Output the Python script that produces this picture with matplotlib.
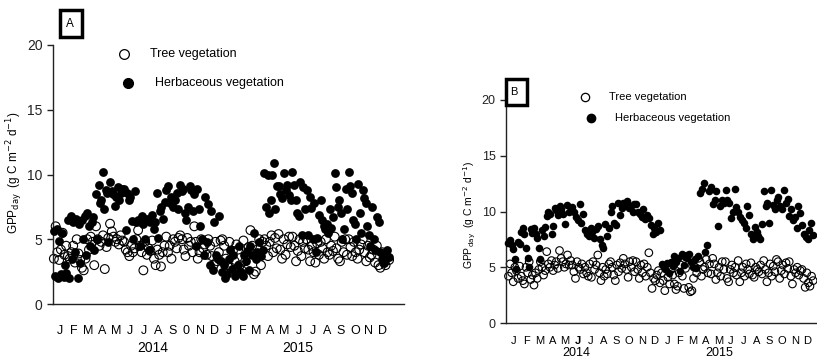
import numpy as np
import matplotlib.pyplot as plt
from matplotlib.patches import Rectangle
from matplotlib.lines import Line2D

plt.rcParams['font.family'] = ['Liberation Sans', 'DejaVu Sans']

# month tick labels (two years)
months_a = ['J', 'F', 'M', 'A', 'M', 'J', 'J', 'A', 'S', '0', 'N', 'D',
            'J', 'F', 'M', 'A', 'M', 'J', 'J', 'A', 'S', 'O', 'N', 'D']
months_b = ['J', 'F', 'M', 'A', 'M', 'J', 'J', 'A', 'S', 'O', 'N', 'D',
            'J', 'F', 'M', 'A', 'M', 'J', 'J', 'A', 'S', 'O', 'N', 'D']
years = ['2014', '2015']

# GPP_day readings, one list per month (Jan 2014 .. Dec 2015)
# panel A
herb_a = [
    [5.6, 2.2, 5.8, 2.0, 4.9, 2.3, 5.5, 2.1, 3.0, 2.4],
    [6.5, 2.0, 6.8, 3.5, 6.3, 4.0, 6.6, 2.0, 6.2, 3.2],
    [6.5, 5.0, 6.8, 3.8, 7.0, 6.0, 4.5, 6.3, 6.7, 4.2],
    [8.5, 5.0, 9.2, 7.8, 8.0, 10.2, 7.3, 8.8, 8.6, 4.8],
    [9.4, 8.7, 8.5, 7.6, 8.3, 9.0, 8.0, 8.6, 8.9],
    [8.9, 5.7, 8.6, 8.0, 8.3, 6.4, 5.0, 8.7, 6.3],
    [6.5, 4.5, 6.8, 6.2, 5.0, 6.6, 4.2, 6.3],
    [6.9, 5.8, 6.3, 8.6, 5.1, 7.2, 7.5, 6.6, 7.9],
    [8.8, 9.1, 7.8, 8.3, 7.5, 8.0, 8.6, 7.3],
    [9.2, 8.7, 8.9, 7.0, 6.5, 7.5, 9.1, 8.8, 7.2],
    [8.5, 4.5, 8.9, 7.3, 6.0, 5.0, 3.8, 8.3, 4.8],
    [7.7, 3.0, 7.2, 2.6, 6.3, 3.8, 3.5, 6.8, 3.3],
    [2.5, 3.0, 2.0, 2.3, 3.5, 4.2, 2.7, 3.8, 2.2],
    [2.3, 3.0, 4.5, 2.5, 2.2, 3.8, 3.3, 4.1, 2.6],
    [4.5, 3.8, 5.5, 3.5, 4.0, 4.8, 3.7, 4.2],
    [10.1, 7.5, 10.0, 7.0, 8.0, 10.0, 10.9, 7.3, 9.1],
    [9.1, 8.5, 8.2, 10.1, 8.8, 9.2, 8.4, 8.0],
    [10.2, 9.2, 8.0, 7.0, 6.8, 9.4, 5.3, 9.0, 7.3],
    [8.8, 5.3, 8.3, 7.4, 5.0, 7.8, 4.0, 5.1, 6.9],
    [8.0, 6.5, 6.0, 5.8, 6.2, 5.5, 7.3, 5.9, 6.7],
    [10.1, 9.0, 7.5, 8.0, 7.0, 5.0, 5.8, 8.9, 7.3],
    [10.2, 9.1, 8.6, 6.5, 6.2, 5.0, 9.3, 7.0, 5.5],
    [8.8, 8.2, 7.8, 6.0, 5.3, 4.5, 7.5, 5.0, 4.2],
    [6.7, 6.3, 4.0, 3.5, 3.2, 3.8, 4.2, 3.6],
]
tree_a = [
    [3.5, 6.0, 4.0, 3.4, 4.2, 5.5, 3.8, 4.5],
    [3.7, 3.5, 4.0, 4.5, 3.2, 5.0, 3.9, 3.4],
    [2.8, 2.6, 3.5, 5.0, 4.2, 5.2, 4.8, 3.0],
    [6.0, 5.0, 4.5, 4.8, 5.3, 2.7, 4.4, 5.1],
    [6.2, 5.6, 5.2, 4.8, 5.0, 4.6, 5.3, 4.9],
    [4.8, 4.2, 4.0, 3.7, 4.5, 4.0, 4.3, 5.0],
    [5.7, 4.5, 4.0, 2.6, 4.8, 3.8, 4.3, 4.1],
    [4.9, 3.5, 3.0, 4.2, 3.8, 2.9, 4.0, 4.5],
    [5.2, 4.0, 4.5, 3.5, 5.0, 4.8, 4.3, 5.1],
    [5.3, 5.0, 4.2, 3.7, 5.1, 4.5, 4.8, 4.0],
    [6.0, 4.8, 3.5, 4.0, 5.0, 4.3, 4.6, 3.8],
    [5.0, 4.5, 3.7, 3.0, 4.8, 3.3, 4.0, 4.9],
    [5.0, 4.5, 3.5, 3.0, 4.8, 2.8, 4.1, 3.3],
    [4.6, 4.2, 3.0, 2.6, 4.9, 3.3, 3.8, 4.4],
    [5.7, 4.5, 2.3, 2.5, 4.2, 5.0, 3.0, 4.8],
    [5.0, 4.5, 3.7, 4.8, 5.3, 4.0, 5.1, 4.3],
    [5.4, 4.2, 3.5, 5.0, 3.8, 4.6, 5.2, 4.4],
    [5.2, 4.5, 3.3, 4.1, 5.0, 3.7, 4.8, 4.3],
    [5.0, 4.2, 3.3, 4.5, 4.0, 3.2, 4.7, 3.8],
    [4.8, 4.3, 3.5, 5.0, 4.0, 3.8, 4.5, 4.1],
    [5.2, 4.3, 3.5, 3.3, 4.8, 4.0, 5.0, 3.8],
    [5.0, 4.4, 3.7, 4.8, 4.0, 3.5, 4.2, 4.6],
    [5.0, 4.0, 3.3, 4.5, 3.6, 3.8, 4.2, 3.2],
    [4.5, 3.0, 2.8, 4.0, 3.2, 3.0, 3.6, 3.4],
]
# panel B
herb_b = [
    [7.2, 7.4, 7.0, 6.6, 5.7, 4.8, 7.3, 7.1],
    [8.2, 8.5, 8.0, 6.7, 5.8, 5.0, 8.4, 8.1],
    [8.5, 8.0, 7.6, 6.7, 5.7, 8.3, 7.8, 8.6],
    [9.6, 10.0, 9.8, 8.0, 8.7, 10.3, 10.1, 9.7],
    [10.5, 10.2, 9.8, 8.9, 10.6, 10.0, 10.3],
    [10.4, 10.0, 9.5, 9.2, 10.7, 9.0, 9.8],
    [8.3, 8.0, 7.8, 8.5, 8.2, 7.6, 8.4],
    [8.7, 7.5, 7.0, 6.7, 8.9, 7.8, 8.5],
    [10.0, 10.5, 9.0, 8.8, 10.8, 9.7, 10.3],
    [10.8, 10.6, 10.9, 10.3, 10.5, 10.0, 10.7],
    [10.7, 10.0, 9.8, 9.5, 10.2, 9.3, 9.7],
    [9.4, 8.8, 8.0, 8.5, 8.2, 9.0, 8.3],
    [5.3, 5.0, 4.8, 5.4, 4.5, 5.5, 5.1],
    [6.0, 5.5, 5.8, 4.7, 6.2, 5.2, 5.9],
    [5.8, 6.2, 5.5, 5.0, 5.7, 4.9, 6.0],
    [11.7, 12.0, 12.6, 6.4, 7.0, 11.8, 12.2],
    [10.7, 11.0, 11.8, 8.7, 10.5, 11.0, 10.8],
    [11.9, 11.0, 10.8, 9.4, 10.0, 12.0, 10.4],
    [10.0, 9.5, 9.2, 9.0, 8.5, 10.5, 9.7],
    [8.0, 7.5, 8.6, 8.2, 7.8, 7.5, 8.9],
    [11.8, 10.5, 10.8, 9.0, 11.9, 10.6, 10.2],
    [11.0, 11.3, 10.5, 10.2, 11.9, 10.8, 11.1],
    [9.6, 10.2, 9.2, 9.5, 8.5, 10.5, 9.9],
    [8.8, 8.0, 7.7, 7.5, 8.3, 9.0, 7.9],
]
tree_b = [
    [4.2, 5.3, 4.5, 3.7, 5.0, 4.7, 4.0, 5.1],
    [4.2, 3.8, 3.5, 5.0, 4.5, 5.5, 3.9, 4.3],
    [3.4, 4.5, 4.0, 4.8, 5.5, 5.0, 4.3, 4.7],
    [6.4, 5.3, 5.0, 5.6, 4.7, 5.2, 5.5, 4.9],
    [6.5, 5.8, 5.5, 5.0, 5.3, 6.1, 5.2, 5.6],
    [5.2, 4.6, 4.0, 5.5, 5.0, 4.8, 5.3, 4.4],
    [5.0, 4.5, 4.2, 5.3, 4.1, 5.5, 4.8, 5.2],
    [6.1, 4.5, 3.8, 5.0, 4.2, 4.8, 4.4, 5.3],
    [5.5, 5.0, 4.3, 3.8, 5.2, 4.6, 5.4, 4.9],
    [5.8, 5.3, 4.8, 4.1, 5.5, 5.0, 5.6, 4.6],
    [5.5, 4.8, 4.0, 5.2, 4.5, 5.3, 4.2, 5.0],
    [6.3, 4.5, 3.1, 4.0, 3.8, 4.3, 4.7, 3.6],
    [4.5, 3.8, 2.9, 5.0, 4.1, 3.5, 4.8, 4.3],
    [3.5, 3.0, 3.3, 4.5, 5.2, 4.2, 3.1, 4.9],
    [6.0, 3.2, 2.8, 2.9, 4.0, 5.0, 4.5, 5.8],
    [5.5, 4.2, 4.8, 5.0, 5.7, 4.5, 5.3, 4.4],
    [5.8, 5.3, 3.9, 4.5, 5.0, 4.2, 5.5, 4.8],
    [5.5, 4.0, 3.7, 4.8, 5.2, 4.5, 5.0, 4.3],
    [5.6, 3.7, 4.5, 5.0, 4.2, 5.3, 4.8, 4.4],
    [5.4, 4.3, 4.1, 5.0, 4.8, 4.6, 5.2, 4.4],
    [5.6, 4.8, 3.7, 4.5, 5.3, 4.2, 5.1, 4.6],
    [5.7, 5.5, 4.0, 4.7, 5.2, 4.4, 5.4, 4.9],
    [5.5, 4.2, 3.5, 4.8, 4.5, 5.0, 4.3, 4.7],
    [4.8, 4.0, 3.2, 4.5, 3.6, 3.3, 4.2, 3.8],
]


def spread(series):
    """Spread the readings of each month evenly across that month."""
    xs, ys = [], []
    for i, vals in enumerate(series):
        n = len(vals)
        for k, v in enumerate(vals):
            xs.append(i - 0.5 + (k + 0.5) / n)
            ys.append(v)
    return np.array(xs), np.array(ys)


def panel(ax, herb, tree, months, ms, fs, pad, bold_idx=None):
    hx, hy = spread(herb)
    tx, ty = spread(tree)
    ax.scatter(tx, ty, s=ms, facecolors='none', edgecolors='black',
               linewidths=0.8, zorder=2, clip_on=False)
    ax.scatter(hx, hy, s=ms, color='black', linewidths=0, zorder=3,
               clip_on=False)
    ax.set_ylim(0, 20)
    ax.set_yticks([0, 5, 10, 15, 20])
    ax.set_xticks(range(24))
    ax.set_xticklabels(months)
    ax.tick_params(axis='x', length=0, pad=pad, labelsize=fs)
    ax.tick_params(axis='y', length=4, width=1, labelsize=fs + 1,
                   colors='#222222')
    for side in ['top', 'right']:
        ax.spines[side].set_visible(False)
    for side in ['left', 'bottom']:
        ax.spines[side].set_linewidth(1.0)
        ax.spines[side].set_color('#222222')
    if bold_idx is not None:
        ax.get_xticklabels()[bold_idx].set_fontweight('bold')


ylab = r'GPP$_{\mathrm{day}}$  (g C m$^{-2}$ d$^{-1}$)'

fig = plt.figure(figsize=(8.17, 3.62), dpi=100)
W, H = 817.0, 362.0

# panel A
axA = fig.add_axes([53 / W, 1 - 304 / H, 351 / W, 259 / H])
panel(axA, herb_a, tree_a, months_a, ms=40, fs=9, pad=15)
axA.set_xlim(-0.5, 24.5)
for yr, xc in zip(years, [6.6, 16.9]):
    axA.text(xc, -0.17, yr, transform=axA.get_xaxis_transform(),
             ha='center', va='center', fontsize=10)
fig.text(15 / W, 1 - 173 / H, ylab, rotation=90, ha='center', va='center',
         fontsize=8.5)
fig.add_artist(Rectangle((60 / W, 1 - 37 / H), 22 / W, 27 / H,
                         transform=fig.transFigure, fill=False,
                         linewidth=2.5, edgecolor='black'))
fig.text(70 / W, 1 - 24 / H, 'A', ha='center', va='center', fontsize=8.5)
# legend A
fig.add_artist(Line2D([124 / W], [1 - 54 / H], marker='o', markersize=7,
                      markerfacecolor='none', markeredgecolor='black',
                      markeredgewidth=0.9, transform=fig.transFigure))
fig.add_artist(Line2D([128 / W], [1 - 83 / H], marker='o', markersize=7,
                      color='black', transform=fig.transFigure))
fig.text(150 / W, 1 - 54 / H, 'Tree vegetation', va='center', fontsize=9)
fig.text(155 / W, 1 - 83 / H, 'Herbaceous vegetation', va='center', fontsize=9)

# panel B (runs past the right edge)
axB = fig.add_axes([506 / W, 1 - 323 / H, 322 / W, 223 / H])
panel(axB, herb_b, tree_b, months_b, ms=30, fs=8, pad=9, bold_idx=5)
axB.set_xlim(-0.63, 24.6)
for yr, xc in zip(years, [4.9, 16.1]):
    axB.text(xc, -0.135, yr, transform=axB.get_xaxis_transform(),
             ha='center', va='center', fontsize=9)
fig.text(470 / W, 1 - 215 / H, ylab, rotation=90, ha='center', va='center',
         fontsize=7.5)
fig.add_artist(Rectangle((506 / W, 1 - 105 / H), 21 / W, 26 / H,
                         transform=fig.transFigure, fill=False,
                         linewidth=2.5, edgecolor='black', zorder=5))
fig.text(514 / W, 1 - 92 / H, 'B', ha='center', va='center', fontsize=8)
fig.add_artist(Line2D([585 / W], [1 - 97 / H], marker='o', markersize=6,
                      markerfacecolor='none', markeredgecolor='black',
                      markeredgewidth=0.9, transform=fig.transFigure))
fig.add_artist(Line2D([591 / W], [1 - 118 / H], marker='o', markersize=6,
                      color='black', transform=fig.transFigure))
fig.text(609 / W, 1 - 97 / H, 'Tree vegetation', va='center', fontsize=8)
fig.text(615 / W, 1 - 118 / H, 'Herbaceous vegetation', va='center',
         fontsize=8)

fig.savefig('out.png', dpi=100)
